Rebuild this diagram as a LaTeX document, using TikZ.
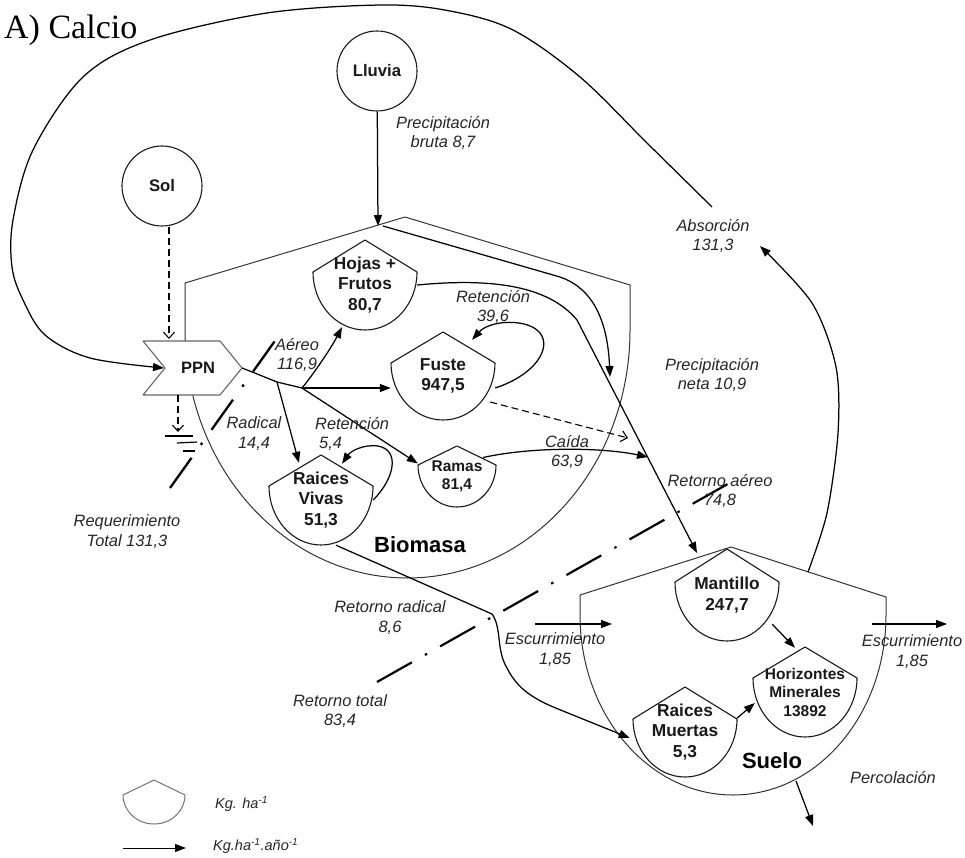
\documentclass[tikz,border=0pt]{standalone}
\usepackage{fontspec}
\setmainfont{Liberation Serif}
\setsansfont{Liberation Sans}
\usetikzlibrary{arrows.meta,calc}

\tikzset{
  stockline/.style={draw=black!90, line width=1.1pt},
  legline/.style={draw=black!55, line width=1pt},
  bigline/.style={draw=black!80, line width=1pt},
  ppnline/.style={draw=black!60, line width=1.1pt, fill=white},
  stocktext/.style={font=\fontsize{17.3}{20.5}\selectfont\sffamily\bfseries, align=center, inner sep=0pt, text=black!90},
  smallstock/.style={font=\fontsize{15.5}{18.5}\selectfont\sffamily\bfseries},
  srcnode/.style={circle, draw=black!90, line width=1.1pt, minimum size=80pt, inner sep=0pt,
    font=\fontsize{16.7}{19}\selectfont\sffamily\bfseries, text=black!90},
  ppntext/.style={font=\fontsize{16.5}{19}\selectfont\sffamily\bfseries, inner sep=0pt, text=black!90},
  biglbl/.style={font=\fontsize{22}{25}\selectfont\sffamily\bfseries, inner sep=0pt},
  lbl/.style={font=\fontsize{16.4}{19.8}\selectfont\sffamily\itshape, align=center, inner sep=0pt, text=black!85},
  leglbl/.style={font=\fontsize{14.5}{17}\selectfont\sffamily\itshape, inner sep=0pt, text=black!85},
  ttl/.style={font=\fontsize{34}{37}\selectfont\rmfamily, inner sep=0pt},
  flow/.style={draw=black, line width=1.25pt, -{Triangle[length=11pt,width=8pt]}},
  dashflow/.style={draw=black, line width=1.1pt, dash pattern=on 7pt off 4pt, -{Straight Barb[length=6pt,width=11pt]}},
  dashdotA/.style={draw=black, line width=2.3pt, dash pattern=on 37pt off 16pt on 2.5pt off 16pt},
  dashdotB/.style={draw=black, line width=2.2pt, dash pattern=on 40pt off 15pt on 2.5pt off 15pt},
}

% #1 outline style, #2 node options, #3 name, #4 cx, #5 ytop, #6 half width, #7 roof height, #8 bowl height, #9 text
\newcommand\stockbox[9]{%
  \draw[#1] (#4,#5) -- ++(#6,#7) arc[start angle=0,end angle=-180,x radius=#6pt,y radius=#8pt] -- cycle;
  \node[stocktext,#2, minimum width={2*#6pt}, minimum height={(#7+#8)*1pt}] (#3) at ({#4},{#5+(#7+#8)/2}) {#9};
}

\begin{document}
\begin{tikzpicture}[x=1pt,y=-1pt,line join=round]
\useasboundingbox (0,0) rectangle (965,858);

% title
\node[ttl, anchor=west] (title) at (4,30) {A) Calcio};

% coordinates
\coordinate (rainhit) at (378,226);
\coordinate (ppnnotch) at (164,368);
\coordinate (split1) at (277,382);
\coordinate (split2) at (302,388);
\coordinate (absorbtop) at (712,207);
\coordinate (absorbtip) at (760,246);
\coordinate (sueloroof) at (808,572);
\coordinate (retair) at (697,553);
\coordinate (retbend) at (577,320);
\coordinate (ppntop) at (169,339);
\coordinate (ppnbot) at (178,395);
\coordinate (sinktop) at (178,432);
\coordinate (dropt) at (628,438);
\coordinate (caidat) at (648,457);
\coordinate (netat) at (610,377);
\coordinate (netabend) at (560,277);
\coordinate (escLa) at (535,624);
\coordinate (escLb) at (612,624);
\coordinate (escRa) at (872,624);
\coordinate (escRb) at (947,624);
\coordinate (perca) at (796,781);
\coordinate (percb) at (813,826);
\coordinate (lega) at (123,848);
\coordinate (legb) at (186,848);
\coordinate (reqa) at (170,488);
\coordinate (reqb) at (277,338);
\coordinate (rta) at (377,682);
\coordinate (rtb) at (733,481);
\coordinate (rrbend) at (492,614);

% sources
\node[srcnode] (lluvia) at (377,71) {Lluvia};
\node[srcnode] (sol) at (162,186) {Sol};

% Biomasa compartment
\draw[bigline] (185,283) -- (405,217) -- (630,285) -- (630,330)
  arc[start angle=0,end angle=-180,x radius=222.5pt,y radius=248pt] -- cycle;
\node[biglbl] (biomasa) at (420,545) {Biomasa};

% Suelo compartment
\draw[bigline] (580,595) -- (731,547) -- (886,597) -- (886,615)
  arc[start angle=0,end angle=-180,x radius=153pt,y radius=180pt] -- cycle;
\node[biglbl] (suelo) at (772,761) {Suelo};

% stocks
\stockbox{stockline}{}{hojas}{365}{240}{52}{32}{58}{Hojas +\\Frutos\\80,7}
\stockbox{stockline}{}{fuste}{443}{332}{52}{31}{57}{Fuste\\947,5}
\stockbox{stockline}{smallstock}{ramas}{457}{446}{39}{19}{42}{Ramas\\81,4}
\stockbox{stockline}{}{rvivas}{321}{455}{52}{31}{59}{Raices\\Vivas\\51,3}
\stockbox{stockline}{}{mantillo}{727}{549}{52}{33}{59}{Mantillo\\247,7}
\stockbox{stockline}{smallstock}{horiz}{805}{647}{52}{31}{59}{Horizontes\\Minerales\\13892}
\stockbox{stockline}{}{rmuertas}{685}{687}{52}{32}{58}{Raices\\Muertas\\5,3}
\stockbox{legline}{}{legshape}{154}{780}{31}{15}{29}{}

% big absorption loop
\draw[flow] plot[smooth, tension=0.55] coordinates {(absorbtop) (647,143) (580,77) (513,30) (450,11) (383,5) (267,13) (150,40) (83,77) (33,150) (13,220) (12,267) (23,300) (45,335) (90,358) (ppnnotch)};
\draw[flow] plot[smooth] coordinates {(sueloroof) (827,513) (838,433) (836,367) (812,303) (absorbtip)};

% PPN
\draw[ppnline] (143,341) -- (220,341) -- (242,368) -- (220,395) -- (143,395) -- (165,368) -- cycle;
\node[ppntext, minimum width=88pt, minimum height=54pt] (ppn) at (198,368) {PPN};

% inputs
\draw[flow] (lluvia) -- (rainhit);
\draw[dashflow] (sol.south -| ppntop) -- (ppntop);
\draw[dashflow] (ppnbot) -- (sinktop);
\draw[line width=1.2pt] (165,436) -- (193,436);
\draw[line width=1.2pt] (177,443) -- (197,442);
\draw[line width=1.2pt] (183,451) -- (195,451);

% PPN outflows
\draw[line width=1.25pt] (ppn.east) -- (split1) -- (split2);
\draw[flow] (split2) .. controls (312,376) and (330,350) .. ([xshift=-23pt,yshift=3pt]hojas.south);
\draw[flow] (split2) -- (split2 -| fuste.west);
\draw[flow] (split2) -- ([yshift=13pt]ramas.west);
\draw[flow] (split1) -- ([xshift=-22pt,yshift=-8pt]rvivas.north);

% retention loops
\draw[flow] ([yshift=-12pt]fuste.east) .. controls (535,375) and (552,348) .. (540,333) .. controls (528,318) and (490,320) .. ([xshift=29pt,yshift=-8pt]fuste.north);
\draw[flow] (rvivas.east) .. controls (395,478) and (400,450) .. (378,446) .. controls (362,444) and (350,452) .. ([xshift=21pt,yshift=-9pt]rvivas.north);

% aerial return
\draw[flow] (hojas.east) .. controls (490,278) and (548,285) .. (retbend) -- (retair);
\draw[dashflow] ([xshift=-5pt,yshift=-26pt]fuste.east) -- (dropt);
\draw[flow] ([xshift=-13pt,yshift=19pt]ramas.east) .. controls (530,447) and (600,447) .. (caidat);
\draw[flow] ([xshift=5pt]rainhit) -- (netabend) .. controls (598,290) and (608,330) .. (netat);

% root return
\draw[flow] ([xshift=15pt]rvivas.south) -- (rrbend) .. controls (502,628) and (496,650) .. (507,668) .. controls (518,690) and (535,700) .. (563,711) -- ([xshift=-3pt,yshift=-6pt]rmuertas.west);

% soil flows
\draw[flow] ([xshift=-7pt,yshift=17pt]mantillo.south east) -- ([xshift=-10pt,yshift=-1pt]horiz.north);
\draw[flow] ([yshift=14pt]rmuertas.east) -- ([xshift=2pt,yshift=-11pt]horiz.west);
\draw[flow] (escLa) -- (escLb);
\draw[flow] (escRa) -- (escRb);
\draw[flow] (perca) -- (percb);

% dash-dot separators
\draw[dashdotA] (reqa) -- (reqb);
\draw[dashdotB] (rta) -- (rtb);

% labels
\node[lbl] (lprec) at (443,133) {Precipitación\\bruta 8,7};
\node[lbl] (labs) at (713,236) {Absorción\\131,3};
\node[lbl] (laer) at (297,355) {Aéreo\\116,9};
\node[lbl] (lrad) at (254,434) {Radical\\14,4};
\node[lbl, align=left, anchor=west] (lret1) at (315,434) {Retención\\\hspace*{4pt}5,4};
\node[lbl] (lret2) at (493,307) {Retención\\39,6};
\node[lbl] (lreq) at (127,532) {Requerimiento\\Total 131,3};
\node[lbl] (lcai) at (567,452) {Caída\\63,9};
\node[lbl] (lneta) at (712,375) {Precipitación\\neta 10,9};
\node[lbl] (lrair) at (720,491) {Retorno aéreo\\74,8};
\node[lbl] (lrrad) at (390,618) {Retorno radical\\8,6};
\node[lbl] (lrtot) at (340,711) {Retorno total\\83,4};
\node[lbl] (lescL) at (555,650) {Escurrimiento\\1,85};
\node[lbl] (lescR) at (912,652) {Escurrimiento\\1,85};
\node[lbl] (lperc) at (893,778) {Percolación};

% legend
\draw[flow, line width=1pt] (lega) -- (legb);
\node[leglbl, anchor=west] (legk1) at (215,804) {Kg. ha\textsuperscript{-1}};
\node[leglbl, anchor=west] (legk2) at (213,846) {Kg.ha\textsuperscript{-1}.año\textsuperscript{-1}};
\end{tikzpicture}
\end{document}
